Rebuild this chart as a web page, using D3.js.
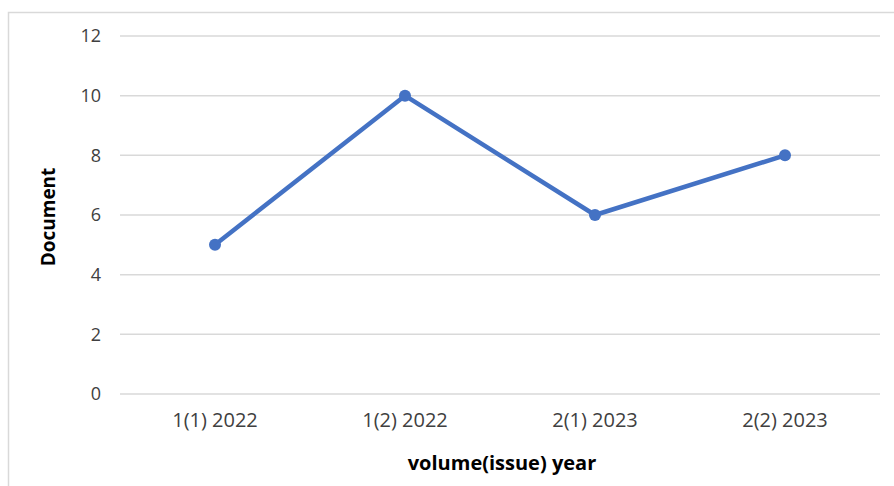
<!DOCTYPE html>
<html>
<head>
<meta charset="utf-8">
<script src="https://cdn.jsdelivr.net/npm/d3@7"></script>
<style>
  html, body { margin: 0; padding: 0; background: #fff; }
  svg { display: block; font-family: "Open Sans", "Liberation Sans", sans-serif; }
</style>
</head>
<body>
<svg id="chart" width="894" height="486"></svg>
<script>
// Documents published per volume(issue)
const categories = ["1(1) 2022", "1(2) 2022", "2(1) 2023", "2(2) 2023"];
const documents = [5, 10, 6, 8];
const yTicks = [0, 2, 4, 6, 8, 10, 12];

const svg = d3.select("#chart");
const W = 894, H = 486;
const margin = { left: 120, right: 14, top: 36, bottom: 92 };

// outer chart frame
svg.append("rect")
  .attr("x", 8.5).attr("y", 12.5)
  .attr("width", 900).attr("height", 500)
  .attr("fill", "#fff").attr("stroke", "#d9d9d9").attr("stroke-width", 1.5);

const x = d3.scaleBand().domain(categories).range([margin.left, W - margin.right]);
const y = d3.scaleLinear().domain([0, 12]).range([H - margin.bottom, margin.top]);

// horizontal gridlines
svg.append("g").selectAll("line").data(yTicks).join("line")
  .attr("x1", margin.left).attr("x2", W - margin.right)
  .attr("y1", d => y(d)).attr("y2", d => y(d))
  .attr("stroke", "#d9d9d9").attr("stroke-width", 1.5);

// y axis labels
const yAxis = svg.append("g")
  .attr("transform", `translate(${margin.left - 19},0)`)
  .call(d3.axisLeft(y).tickValues(yTicks).tickSize(0).tickPadding(0));
yAxis.select(".domain").remove();
yAxis.attr("font-size", null).attr("font-family", null);
yAxis.selectAll("text").attr("fill", "#404040").style("font-size", "18px");

// x axis labels
const xAxis = svg.append("g")
  .attr("transform", `translate(0,${y(0)})`)
  .call(d3.axisBottom(x).tickSize(0).tickPadding(19));
xAxis.select(".domain").remove();
xAxis.attr("font-size", null).attr("font-family", null);
xAxis.selectAll("text").attr("fill", "#404040").style("font-size", "20px");

// axis titles
svg.append("text")
  .attr("x", (margin.left + W - margin.right) / 2 + 2).attr("y", 470)
  .attr("text-anchor", "middle").style("font-size", "20px").attr("font-weight", "bold")
  .attr("fill", "#000").text("volume(issue) year");

svg.append("text")
  .attr("transform", `translate(55,${(y(0) + y(12)) / 2 + 2}) rotate(-90)`)
  .attr("text-anchor", "middle").style("font-size", "19px").attr("font-weight", "bold")
  .attr("fill", "#000").text("Document");

// series line and markers
const cx = d => x(d) + x.bandwidth() / 2;
const line = d3.line().x((d, i) => cx(categories[i])).y(d => y(d));

svg.append("path").datum(documents)
  .attr("d", line).attr("fill", "none")
  .attr("stroke", "#4472c4").attr("stroke-width", 4.5)
  .attr("stroke-linejoin", "round").attr("stroke-linecap", "round");

svg.append("g").selectAll("circle").data(documents).join("circle")
  .attr("cx", (d, i) => cx(categories[i])).attr("cy", d => y(d))
  .attr("r", 6).attr("fill", "#4472c4");
</script>
</body>
</html>
